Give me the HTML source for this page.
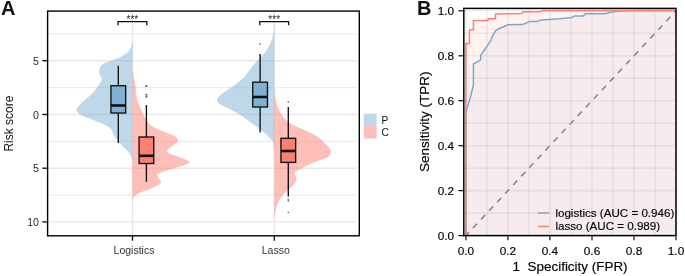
<!DOCTYPE html>
<html><head><meta charset="utf-8"><title>Figure</title>
<style>html,body{margin:0;padding:0;background:#fff;}body{width:685px;height:276px;overflow:hidden;position:relative;}</style></head>
<body>
<svg width="685" height="276" viewBox="0 0 685 276" style="position:absolute;left:0;top:0;will-change:transform;opacity:0.999;font-family:'Liberation Sans',sans-serif">
<rect width="685" height="276" fill="#fff"/>
<line x1="48" x2="357" y1="33.8" y2="33.8" stroke="#e7e7e7" stroke-width="0.9"/>
<line x1="48" x2="357" y1="60.7" y2="60.7" stroke="#e7e7e7" stroke-width="1.4"/>
<line x1="48" x2="357" y1="87.6" y2="87.6" stroke="#e7e7e7" stroke-width="0.9"/>
<line x1="48" x2="357" y1="114.5" y2="114.5" stroke="#e7e7e7" stroke-width="1.4"/>
<line x1="48" x2="357" y1="141.3" y2="141.3" stroke="#e7e7e7" stroke-width="0.9"/>
<line x1="48" x2="357" y1="168.2" y2="168.2" stroke="#e7e7e7" stroke-width="1.4"/>
<line x1="48" x2="357" y1="195.1" y2="195.1" stroke="#e7e7e7" stroke-width="0.9"/>
<line x1="48" x2="357" y1="221.9" y2="221.9" stroke="#e7e7e7" stroke-width="1.4"/>
<line x1="132.5" x2="132.5" y1="11.5" y2="235.5" stroke="#e7e7e7" stroke-width="1.4"/>
<line x1="274.3" x2="274.3" y1="11.5" y2="235.5" stroke="#e7e7e7" stroke-width="1.4"/>
<path d="M132.5,40.0C132.5,40.2 132.6,40.3 132.3,41.5C132.0,42.7 131.7,45.5 130.9,47.4C130.1,49.2 129.2,51.0 127.4,52.6C125.7,54.2 123.0,55.7 120.4,57.0C117.8,58.3 114.3,59.4 111.7,60.4C109.1,61.4 106.7,62.0 104.8,63.0C102.9,64.0 101.3,65.2 100.4,66.5C99.5,67.8 99.3,69.5 99.2,70.9C99.1,72.4 99.5,73.9 99.9,75.2C100.3,76.5 101.8,77.2 101.7,78.7C101.7,80.2 100.8,81.9 99.6,83.9C98.4,85.9 96.3,88.6 94.3,90.9C92.3,93.2 89.7,95.6 87.4,97.8C85.1,100.0 82.1,102.2 80.4,103.9C78.7,105.7 77.7,107.3 77.0,108.3C76.3,109.3 76.5,109.4 76.5,110.0C76.5,110.6 76.3,110.8 77.2,111.7C78.1,112.6 79.2,114.0 82.0,115.4C84.8,116.9 90.5,118.8 94.3,120.4C98.1,122.0 102.0,123.3 104.8,124.8C107.6,126.2 109.3,127.2 110.9,129.1C112.5,131.0 112.8,133.8 114.3,136.1C115.8,138.4 117.7,140.8 119.6,143.0C121.5,145.2 124.0,147.2 125.7,149.1C127.4,151.0 129.0,152.8 130.0,154.3C131.0,155.8 131.3,156.4 131.7,158.0C132.1,159.6 132.4,163.0 132.5,164.0Z" fill="#80b1d3" fill-opacity="0.5"/>
<path d="M132.5,70.0C132.9,72.3 134.4,79.1 135.2,83.9C135.9,88.7 136.2,95.2 137.0,99.0C137.8,102.8 138.9,104.4 140.0,107.0C141.1,109.6 142.2,112.2 143.5,114.8C144.8,117.4 145.9,120.4 147.8,122.6C149.7,124.8 151.9,126.2 154.8,127.8C157.7,129.4 162.0,130.9 165.2,132.2C168.4,133.5 171.9,134.5 173.9,135.7C175.9,136.8 176.8,138.1 177.4,139.1C178.0,140.1 177.7,141.0 177.4,141.7C177.1,142.4 177.0,142.5 175.7,143.5C174.4,144.5 171.0,146.5 169.6,147.8C168.2,149.1 166.9,150.3 167.0,151.3C167.1,152.3 168.1,152.9 170.4,153.9C172.7,154.9 178.0,156.3 180.9,157.4C183.8,158.5 186.4,159.7 187.8,160.5C189.2,161.3 189.6,161.4 189.5,162.0C189.4,162.6 189.1,163.2 187.4,163.9C185.8,164.7 182.7,165.5 179.6,166.5C176.5,167.5 172.1,168.8 169.1,169.8C166.1,170.8 163.2,171.7 161.3,172.4C159.4,173.2 158.4,173.7 157.7,174.3C157.0,175.0 156.8,175.5 157.1,176.3C157.4,177.1 158.7,178.0 159.3,178.9C160.0,179.8 160.9,180.6 161.0,181.5C161.1,182.4 160.7,183.2 159.7,184.1C158.7,185.0 156.9,185.7 154.8,186.7C152.7,187.7 149.4,189.0 147.0,190.0C144.6,191.0 142.4,191.7 140.4,192.6C138.4,193.5 136.4,194.6 135.2,195.5C134.0,196.4 133.4,197.2 133.0,198.3C132.6,199.4 132.6,201.4 132.5,202.0Z" fill="#fb8072" fill-opacity="0.5"/>
<path d="M274.3,24.0C274.2,24.3 274.0,24.3 273.9,25.7C273.8,27.1 273.9,30.4 273.6,32.6C273.3,34.8 272.9,36.7 272.2,38.7C271.5,40.7 270.6,42.8 269.6,44.8C268.6,46.8 267.4,49.0 266.1,50.9C264.8,52.8 262.7,55.0 261.7,56.1C260.7,57.2 261.6,56.1 260.0,57.8C258.4,59.5 254.2,64.0 252.2,66.5C250.2,69.0 249.2,70.7 247.8,72.6C246.4,74.5 245.7,75.8 243.5,77.8C241.3,79.8 237.7,82.6 234.8,84.8C231.9,87.0 228.5,89.3 226.0,91.0C223.5,92.7 221.4,93.8 220.0,95.2C218.6,96.6 217.7,98.3 217.4,99.6C217.1,100.9 217.2,101.8 218.3,103.0C219.5,104.2 221.6,105.0 224.3,106.5C227.1,108.0 231.6,110.0 234.8,111.7C238.0,113.5 240.9,115.2 243.5,117.0C246.1,118.8 248.1,120.5 250.4,122.2C252.7,123.9 255.1,125.7 257.4,127.4C259.7,129.1 262.3,130.8 264.3,132.6C266.3,134.4 268.2,136.3 269.6,138.0C271.1,139.7 272.2,139.8 273.0,142.6C273.8,145.4 274.1,152.9 274.3,155.0Z" fill="#80b1d3" fill-opacity="0.5"/>
<path d="M274.3,88.0C274.4,88.4 274.4,88.6 274.6,90.4C274.8,92.2 275.2,96.5 275.7,99.1C276.2,101.7 276.7,103.8 277.4,106.0C278.1,108.2 278.9,110.2 280.0,112.2C281.1,114.2 282.6,116.4 284.3,118.3C286.0,120.2 288.1,122.0 290.4,123.5C292.7,125.0 295.5,126.3 298.3,127.6C301.1,128.9 304.1,130.0 307.0,131.3C309.9,132.7 313.1,134.1 315.7,135.7C318.3,137.3 320.6,139.2 322.6,140.9C324.6,142.6 326.4,144.5 327.8,146.1C329.2,147.7 330.4,149.1 330.8,150.4C331.2,151.7 331.0,152.7 330.4,153.9C329.8,155.1 328.9,156.3 327.0,157.4C325.1,158.5 321.9,159.3 319.0,160.5C316.1,161.7 312.4,163.0 309.6,164.3C306.8,165.6 304.5,167.0 302.0,168.3C299.5,169.6 295.9,170.8 294.8,172.2C293.8,173.6 295.4,175.2 295.7,176.5C296.0,177.8 296.8,178.7 296.5,180.0C296.2,181.3 295.2,182.7 293.9,184.3C292.6,185.9 290.6,187.7 288.7,189.6C286.8,191.5 284.3,193.4 282.6,195.5C280.9,197.6 279.5,199.5 278.3,202.0C277.1,204.5 276.4,207.8 275.7,210.7C275.0,213.6 274.6,217.9 274.4,219.3Z" fill="#fb8072" fill-opacity="0.5"/>
<line x1="118.3" x2="118.3" y1="65.7" y2="85.7" stroke="#111" stroke-width="1.35"/>
<line x1="118.3" x2="118.3" y1="113" y2="143" stroke="#111" stroke-width="1.35"/>
<rect x="110.95" y="85.7" width="14.70" height="27.3" fill="#80b1d3" stroke="#111" stroke-width="1.35"/>
<line x1="110.95" x2="125.65" y1="105.5" y2="105.5" stroke="#111" stroke-width="2.6"/>
<line x1="146.4" x2="146.4" y1="105" y2="137" stroke="#111" stroke-width="1.35"/>
<line x1="146.4" x2="146.4" y1="163.5" y2="181.8" stroke="#111" stroke-width="1.35"/>
<rect x="139.05" y="137" width="14.70" height="26.5" fill="#fb8072" stroke="#111" stroke-width="1.35"/>
<line x1="139.05" x2="153.75" y1="155.8" y2="155.8" stroke="#111" stroke-width="2.6"/>
<circle cx="146.4" cy="86.0" r="1.0" fill="#484848"/>
<circle cx="146.4" cy="94.7" r="0.95" fill="#555"/>
<circle cx="146.4" cy="96.8" r="0.95" fill="#555"/>
<line x1="260.1" x2="260.1" y1="54" y2="82.2" stroke="#111" stroke-width="1.35"/>
<line x1="260.1" x2="260.1" y1="107" y2="132.6" stroke="#111" stroke-width="1.35"/>
<rect x="252.75" y="82.2" width="14.70" height="24.8" fill="#80b1d3" stroke="#111" stroke-width="1.35"/>
<line x1="252.75" x2="267.45" y1="97" y2="97" stroke="#111" stroke-width="2.6"/>
<circle cx="260.1" cy="43.9" r="0.85" fill="#777"/>
<line x1="288.3" x2="288.3" y1="107" y2="138.3" stroke="#111" stroke-width="1.35"/>
<line x1="288.3" x2="288.3" y1="162.4" y2="196.5" stroke="#111" stroke-width="1.35"/>
<rect x="280.95" y="138.3" width="14.70" height="24.1" fill="#fb8072" stroke="#111" stroke-width="1.35"/>
<line x1="280.95" x2="295.65" y1="151" y2="151" stroke="#111" stroke-width="2.6"/>
<circle cx="288.3" cy="101.9" r="0.85" fill="#777"/>
<circle cx="288.3" cy="199.4" r="0.85" fill="#777"/>
<circle cx="288.3" cy="200.8" r="0.85" fill="#777"/>
<circle cx="288.3" cy="212.4" r="0.85" fill="#777"/>
<path d="M118.0,25.2V21.6H146.8V25.2" fill="none" stroke="#111" stroke-width="1.3"/>
<text x="132.4" y="22.9" font-size="10" text-anchor="middle" fill="#222">***</text>
<path d="M259.8,25.2V21.6H288.6V25.2" fill="none" stroke="#111" stroke-width="1.3"/>
<text x="274.2" y="22.9" font-size="10" text-anchor="middle" fill="#222">***</text>
<rect x="47.6" y="11.1" width="311.7" height="224.7" fill="none" stroke="#000" stroke-width="1.4"/>
<line x1="42.3" x2="47.6" y1="60.7" y2="60.7" stroke="#111" stroke-width="1.35"/>
<text x="39" y="64.8" font-size="10.6" text-anchor="end" fill="#2a2a2a">5</text>
<line x1="42.3" x2="47.6" y1="114.5" y2="114.5" stroke="#111" stroke-width="1.35"/>
<text x="39" y="118.5" font-size="10.6" text-anchor="end" fill="#2a2a2a">0</text>
<line x1="42.3" x2="47.6" y1="168.2" y2="168.2" stroke="#111" stroke-width="1.35"/>
<text x="39" y="172.3" font-size="10.6" text-anchor="end" fill="#2a2a2a">5</text>
<line x1="42.3" x2="47.6" y1="221.9" y2="221.9" stroke="#111" stroke-width="1.35"/>
<text x="39" y="226.0" font-size="10.6" text-anchor="end" fill="#2a2a2a">10</text>
<line x1="132.5" x2="132.5" y1="235.8" y2="240.7" stroke="#111" stroke-width="1.35"/>
<text x="134.0" y="253.7" font-size="10.5" text-anchor="middle" fill="#333">Logistics</text>
<line x1="274.3" x2="274.3" y1="235.8" y2="240.7" stroke="#111" stroke-width="1.35"/>
<text x="275.8" y="253.7" font-size="10.5" text-anchor="middle" fill="#333">Lasso</text>
<text transform="translate(13.2,123.6) rotate(-90)" font-size="12" text-anchor="middle" fill="#111">Risk score</text>
<text x="1.1" y="14.8" font-size="20" font-weight="bold" fill="#111">A</text>
<rect x="363.8" y="113.7" width="12.8" height="12.4" fill="#80b1d3" fill-opacity="0.5"/>
<rect x="363.8" y="126.1" width="12.8" height="12.4" fill="#fb8072" fill-opacity="0.5"/>
<text x="381.6" y="123.5" font-size="10.2" fill="#111">P</text>
<text x="381.6" y="136.4" font-size="10.2" fill="#111">C</text>
<rect x="463.8" y="8.4" width="212.2" height="227.2" fill="#fff"/>
<line x1="465.9" x2="465.9" y1="8.4" y2="235.6" stroke="#b0b0b0" stroke-opacity="0.22" stroke-width="1.6"/>
<line x1="463.8" x2="676" y1="235.6" y2="235.6" stroke="#b0b0b0" stroke-opacity="0.22" stroke-width="1.6"/>
<line x1="486.9" x2="486.9" y1="8.4" y2="235.6" stroke="#b0b0b0" stroke-opacity="0.22" stroke-width="1.6"/>
<line x1="463.8" x2="676" y1="213.1" y2="213.1" stroke="#b0b0b0" stroke-opacity="0.22" stroke-width="1.6"/>
<line x1="507.9" x2="507.9" y1="8.4" y2="235.6" stroke="#b0b0b0" stroke-opacity="0.22" stroke-width="1.6"/>
<line x1="463.8" x2="676" y1="190.6" y2="190.6" stroke="#b0b0b0" stroke-opacity="0.22" stroke-width="1.6"/>
<line x1="528.9" x2="528.9" y1="8.4" y2="235.6" stroke="#b0b0b0" stroke-opacity="0.22" stroke-width="1.6"/>
<line x1="463.8" x2="676" y1="168.2" y2="168.2" stroke="#b0b0b0" stroke-opacity="0.22" stroke-width="1.6"/>
<line x1="549.9" x2="549.9" y1="8.4" y2="235.6" stroke="#b0b0b0" stroke-opacity="0.22" stroke-width="1.6"/>
<line x1="463.8" x2="676" y1="145.7" y2="145.7" stroke="#b0b0b0" stroke-opacity="0.22" stroke-width="1.6"/>
<line x1="570.9" x2="570.9" y1="8.4" y2="235.6" stroke="#b0b0b0" stroke-opacity="0.22" stroke-width="1.6"/>
<line x1="463.8" x2="676" y1="123.2" y2="123.2" stroke="#b0b0b0" stroke-opacity="0.22" stroke-width="1.6"/>
<line x1="592.0" x2="592.0" y1="8.4" y2="235.6" stroke="#b0b0b0" stroke-opacity="0.22" stroke-width="1.6"/>
<line x1="463.8" x2="676" y1="100.7" y2="100.7" stroke="#b0b0b0" stroke-opacity="0.22" stroke-width="1.6"/>
<line x1="613.0" x2="613.0" y1="8.4" y2="235.6" stroke="#b0b0b0" stroke-opacity="0.22" stroke-width="1.6"/>
<line x1="463.8" x2="676" y1="78.2" y2="78.2" stroke="#b0b0b0" stroke-opacity="0.22" stroke-width="1.6"/>
<line x1="634.0" x2="634.0" y1="8.4" y2="235.6" stroke="#b0b0b0" stroke-opacity="0.22" stroke-width="1.6"/>
<line x1="463.8" x2="676" y1="55.8" y2="55.8" stroke="#b0b0b0" stroke-opacity="0.22" stroke-width="1.6"/>
<line x1="655.0" x2="655.0" y1="8.4" y2="235.6" stroke="#b0b0b0" stroke-opacity="0.22" stroke-width="1.6"/>
<line x1="463.8" x2="676" y1="33.3" y2="33.3" stroke="#b0b0b0" stroke-opacity="0.22" stroke-width="1.6"/>
<line x1="676.0" x2="676.0" y1="8.4" y2="235.6" stroke="#b0b0b0" stroke-opacity="0.22" stroke-width="1.6"/>
<line x1="463.8" x2="676" y1="10.8" y2="10.8" stroke="#b0b0b0" stroke-opacity="0.22" stroke-width="1.6"/>
<polygon points="465.9,235.6 465.9,112.0 470.7,96.0 473.4,84.9 473.4,64.0 480.5,60.1 480.9,54.9 486.1,47.7 490.7,40.6 492.6,35.7 495.9,30.4 499.1,28.5 504.3,26.5 507.6,24.8 522.4,24.6 529.6,21.6 536.7,21.6 541.3,20.0 560.0,18.7 571.7,17.4 574.3,16.1 582.8,16.1 586.1,13.7 605.0,13.7 610.2,12.2 620.0,11.1 630.0,10.6 676.0,10.6 676,235.6" fill="#80b1d3" fill-opacity="0.08"/>
<polygon points="465.9,235.6 465.9,43.6 469.4,43.6 469.4,29.8 473.4,29.8 473.4,20.4 488.0,20.4 488.0,18.7 495.5,18.7 495.5,13.9 521.5,13.6 523.0,11.8 540.3,11.8 542.0,10.6 676.0,10.6 676,235.6" fill="#fb8072" fill-opacity="0.1"/>
<line x1="465.9" y1="235.6" x2="676.0" y2="10.799999999999983" stroke="#808080" stroke-width="1.45" stroke-dasharray="6,5.8" stroke-dashoffset="1.5"/>
<polyline points="465.9,235.6 465.9,112.0 470.7,96.0 473.4,84.9 473.4,64.0 480.5,60.1 480.9,54.9 486.1,47.7 490.7,40.6 492.6,35.7 495.9,30.4 499.1,28.5 504.3,26.5 507.6,24.8 522.4,24.6 529.6,21.6 536.7,21.6 541.3,20.0 560.0,18.7 571.7,17.4 574.3,16.1 582.8,16.1 586.1,13.7 605.0,13.7 610.2,12.2 620.0,11.1 630.0,10.6 676.0,10.6" fill="none" stroke="#7fa6c9" stroke-width="1.5" stroke-linejoin="round"/>
<polyline points="465.9,235.6 465.9,43.6 469.4,43.6 469.4,29.8 473.4,29.8 473.4,20.4 488.0,20.4 488.0,18.7 495.5,18.7 495.5,13.9 521.5,13.6 523.0,11.8 540.3,11.8 542.0,10.6 676.0,10.6" fill="none" stroke="#fb8072" stroke-width="1.5" stroke-linejoin="round"/>
<rect x="463.8" y="8.4" width="212.2" height="227.2" fill="none" stroke="#000" stroke-width="1.5"/>
<line x1="458.4" x2="463.8" y1="235.6" y2="235.6" stroke="#111" stroke-width="1.2"/>
<text x="454.2" y="239.9" font-size="11.8" text-anchor="end" fill="#000" stroke="#000" stroke-width="0.15">0.0</text>
<line x1="465.9" x2="465.9" y1="235.6" y2="240.2" stroke="#111" stroke-width="1.2"/>
<text x="465.9" y="255" font-size="11.8" text-anchor="middle" fill="#000" stroke="#000" stroke-width="0.15">0.0</text>
<line x1="458.4" x2="463.8" y1="190.6" y2="190.6" stroke="#111" stroke-width="1.2"/>
<text x="454.2" y="194.9" font-size="11.8" text-anchor="end" fill="#000" stroke="#000" stroke-width="0.15">0.2</text>
<line x1="507.9" x2="507.9" y1="235.6" y2="240.2" stroke="#111" stroke-width="1.2"/>
<text x="507.9" y="255" font-size="11.8" text-anchor="middle" fill="#000" stroke="#000" stroke-width="0.15">0.2</text>
<line x1="458.4" x2="463.8" y1="145.7" y2="145.7" stroke="#111" stroke-width="1.2"/>
<text x="454.2" y="150.0" font-size="11.8" text-anchor="end" fill="#000" stroke="#000" stroke-width="0.15">0.4</text>
<line x1="549.9" x2="549.9" y1="235.6" y2="240.2" stroke="#111" stroke-width="1.2"/>
<text x="549.9" y="255" font-size="11.8" text-anchor="middle" fill="#000" stroke="#000" stroke-width="0.15">0.4</text>
<line x1="458.4" x2="463.8" y1="100.7" y2="100.7" stroke="#111" stroke-width="1.2"/>
<text x="454.2" y="105.0" font-size="11.8" text-anchor="end" fill="#000" stroke="#000" stroke-width="0.15">0.6</text>
<line x1="592.0" x2="592.0" y1="235.6" y2="240.2" stroke="#111" stroke-width="1.2"/>
<text x="592.0" y="255" font-size="11.8" text-anchor="middle" fill="#000" stroke="#000" stroke-width="0.15">0.6</text>
<line x1="458.4" x2="463.8" y1="55.8" y2="55.8" stroke="#111" stroke-width="1.2"/>
<text x="454.2" y="60.1" font-size="11.8" text-anchor="end" fill="#000" stroke="#000" stroke-width="0.15">0.8</text>
<line x1="634.0" x2="634.0" y1="235.6" y2="240.2" stroke="#111" stroke-width="1.2"/>
<text x="634.0" y="255" font-size="11.8" text-anchor="middle" fill="#000" stroke="#000" stroke-width="0.15">0.8</text>
<line x1="458.4" x2="463.8" y1="10.8" y2="10.8" stroke="#111" stroke-width="1.2"/>
<text x="454.2" y="15.1" font-size="11.8" text-anchor="end" fill="#000" stroke="#000" stroke-width="0.15">1.0</text>
<line x1="676.0" x2="676.0" y1="235.6" y2="240.2" stroke="#111" stroke-width="1.2"/>
<text x="676.0" y="255" font-size="11.8" text-anchor="middle" fill="#000" stroke="#000" stroke-width="0.15">1.0</text>
<text x="570.1" y="270.6" font-size="13.45" text-anchor="middle" fill="#000" stroke="#000" stroke-width="0.15" xml:space="preserve">1  Specificity (FPR)</text>
<text transform="translate(429.3,121.8) rotate(-90)" font-size="13.5" text-anchor="middle" fill="#000" stroke="#000" stroke-width="0.15">Sensitivity (TPR)</text>
<text x="416.9" y="14.9" font-size="20" font-weight="bold" fill="#111">B</text>
<line x1="537.8" x2="548.8" y1="212.9" y2="212.9" stroke="#7fa6c9" stroke-width="1.5"/>
<line x1="537.8" x2="548.8" y1="226.5" y2="226.5" stroke="#fb8072" stroke-width="1.5"/>
<text x="555.4" y="216.6" font-size="11.6" fill="#000" stroke="#000" stroke-width="0.15">logistics (AUC = 0.946)</text>
<text x="555.4" y="230.2" font-size="11.6" fill="#000" stroke="#000" stroke-width="0.15">lasso (AUC = 0.989)</text>
</svg>
</body></html>
